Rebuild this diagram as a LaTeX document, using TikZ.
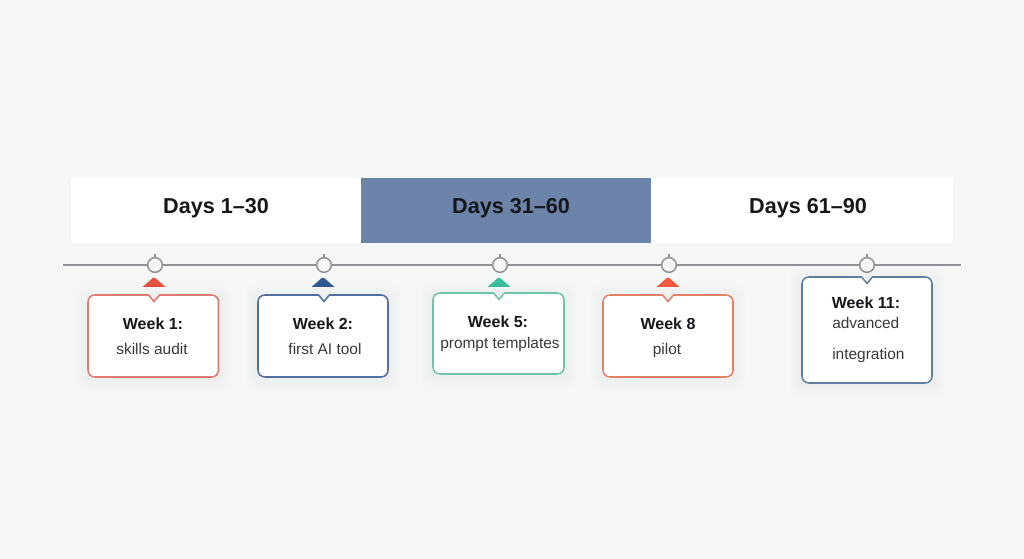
\documentclass[tikz,border=0pt]{standalone}
\usepackage{fontspec}
\setmainfont{Liberation Sans}
\definecolor{bgc}{HTML}{F5F6F6}
\definecolor{midband}{HTML}{6C84A9}
\definecolor{linec}{HTML}{8E9294}
\definecolor{inkc}{HTML}{15171A}
\definecolor{redc}{HTML}{DE7B70}
\definecolor{navyc}{HTML}{4F6F9C}
\definecolor{tealc}{HTML}{6FC3AC}
\definecolor{orangec}{HTML}{E27F68}
\definecolor{steelc}{HTML}{5F7F9F}
\definecolor{redt}{HTML}{E8503F}
\definecolor{navyt}{HTML}{2F5A92}
\definecolor{tealt}{HTML}{3DBE9F}
\definecolor{oranget}{HTML}{F0593F}
\tikzset{
  bandcell/.style={rectangle,inner sep=0pt,outer sep=0pt,minimum height=48.75pt,text=inkc},
  bandtext/.style={anchor=base,text=inkc,inner sep=0pt,font=\fontsize{16.2}{18}\selectfont\bfseries},
  headtext/.style={anchor=base,text=inkc,inner sep=0pt,font=\fontsize{12}{14}\selectfont\bfseries},
  bodytext/.style={anchor=base,text=inkc!85,inner sep=0pt,font=\fontsize{11.6}{14}\selectfont},
  milestone/.style={circle,draw=linec,fill=bgc,line width=1.1pt,minimum size=11pt,inner sep=0pt},
  axisline/.style={draw=linec,line width=1.4pt},
  marker/.style={line join=round,line width=.3pt},
}
% left, top, right, bottom, notch x, colour
\newcommand{\callbox}[6]{%
  \foreach \s/\o in {12/.006,9/.007,6/.008,3/.009}{
    \fill[black,opacity=\o,rounded corners=7pt] (#1-\s,#2-\s+2) rectangle (#3+\s,#4+\s+2);
  }
  \draw[draw=#6,fill=white,line width=1.15pt,line join=round]
    (#5-5.5,#2) -- (#5,#2+6.5) -- (#5+5.5,#2)
    -- (#3-7,#2) .. controls (#3-3,#2) and (#3,#2+3) .. (#3,#2+7)
    -- (#3,#4-7) .. controls (#3,#4-3) and (#3-3,#4) .. (#3-7,#4)
    -- (#1+7,#4) .. controls (#1+3,#4) and (#1,#4-3) .. (#1,#4-7)
    -- (#1,#2+7) .. controls (#1,#2+3) and (#1+3,#2) .. (#1+7,#2) -- cycle;
}
\newcommand{\tri}[3]{\fill[#3,marker] (#1-11.5,287) -- (#1+11.5,287) -- (#1+1.2,#2) -- (#1-1.2,#2) -- cycle;}
\begin{document}
\begin{tikzpicture}[x=.75pt,y=-.75pt]
\useasboundingbox (0,0) rectangle (1024,559);
\fill[bgc] (0,0) rectangle (1024,559);
% band
\fill[white,rounded corners=2pt] (71,178) rectangle (953,243);
\node[bandcell,fill=midband,minimum width=217.5pt] (midcell) at (506,210.5) {};
\node[bandtext] (d1) at (216,214) {Days 1–30};
\node[bandtext] (d2) at (511,214) {Days 31–60};
\node[bandtext] (d3) at (808,214) {Days 61–90};
% axis
\coordinate (axisL) at (63,265);
\coordinate (axisR) at (961,265);
\draw[axisline] (axisL) -- (axisR);
\foreach \n/\x in {m1/155,m2/324,m5/500,m8/669,m11/867}{
  \node[milestone] (\n) at (\x,265) {};
  \coordinate (\n top) at (\x,254);
  \draw[axisline,line width=.9pt] (\n.north) -- (\n top);
}
% markers
\tri{154}{278}{redt}
\tri{323}{278}{navyt}
\tri{499}{278}{tealt}
\tri{668}{278}{oranget}
% callouts
\callbox{88}{295}{218.5}{377}{154}{redc}
\callbox{258}{295}{388}{377}{324}{navyc}
\callbox{433}{293}{564}{374}{499}{tealc}
\callbox{603}{295}{733}{377}{668}{orangec}
\callbox{802}{277}{932}{383}{867}{steelc}
% text
\node[headtext] (w1) at (153,330) {Week 1:};
\node[bodytext] (t1) at (152,354) {skills audit};
\node[headtext] (w2) at (323,330) {Week 2:};
\node[bodytext] (t2) at (325,354) {first AI tool};
\node[headtext] (w5) at (498,328) {Week 5:};
\node[bodytext] (t5) at (500,349) {prompt templates};
\node[headtext] (w8) at (668,330) {Week 8};
\node[bodytext] (t8) at (667,354) {pilot};
\node[headtext] (w11) at (866,309) {Week 11:};
\node[bodytext,anchor=base west] (t11a) at (832,329) {advanced};
\node[bodytext,anchor=base west] (t11b) at (832,359) {integration};
\end{tikzpicture}
\end{document}
